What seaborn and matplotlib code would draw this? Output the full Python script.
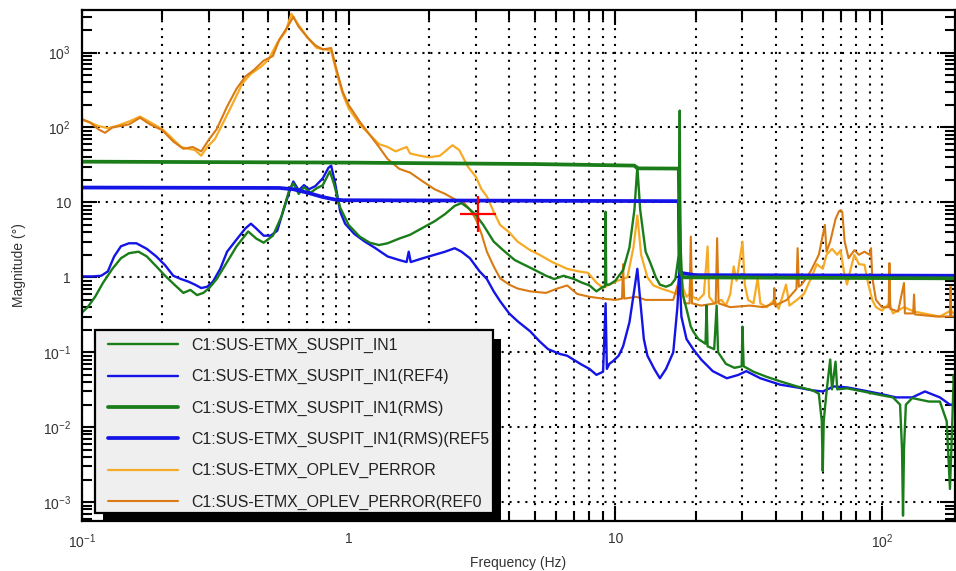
import numpy as np
import matplotlib
matplotlib.use("Agg")
import matplotlib.pyplot as plt
import seaborn as sns
from matplotlib.ticker import FixedLocator, FuncFormatter, LogLocator, NullFormatter
from matplotlib.patches import Rectangle
from matplotlib.transforms import IdentityTransform

# ---------------- data ----------------
labels = [
    "C1:SUS-ETMX_SUSPIT_IN1",
    "C1:SUS-ETMX_SUSPIT_IN1(REF4)",
    "C1:SUS-ETMX_SUSPIT_IN1(RMS)",
    "C1:SUS-ETMX_SUSPIT_IN1(RMS)(REF5",
    "C1:SUS-ETMX_OPLEV_PERROR",
    "C1:SUS-ETMX_OPLEV_PERROR(REF0",
]

green_f = [0.100, 0.105, 0.112, 0.120, 0.130, 0.140, 0.150, 0.163, 0.175, 0.190, 0.205, 0.222,
           0.240, 0.255, 0.270, 0.285, 0.300, 0.320, 0.350, 0.380, 0.420, 0.450, 0.480, 0.520,
           0.560, 0.600, 0.620, 0.650, 0.680, 0.720, 0.760, 0.800, 0.850, 0.880, 0.930, 1.00,
           1.10, 1.20, 1.30, 1.40, 1.55, 1.70, 1.90, 2.10, 2.30, 2.50, 2.65, 2.80, 3.00, 3.20,
           3.50, 3.80, 4.20, 4.60, 5.00, 5.50, 5.90, 6.40, 7.00, 7.50, 8.00, 8.50, 9.00, 9.15,
           9.20, 9.25, 9.50, 10.0, 10.7, 11.3, 11.8, 12.1, 12.4, 13.0, 13.5, 14.2, 14.7, 15.5,
           16.2, 16.8, 17.3, 17.45, 17.55, 17.9, 18.6, 19.2, 19.6, 20.5, 21.8, 22.0, 22.2, 23.5,
           24.0, 24.3, 26.0, 28.0, 29.8, 30.0, 30.3, 33.0, 37.0, 41.5, 48.0, 55.0, 58.0, 59.5,
           60.0, 60.5, 62.0, 64.0, 65.0, 67.0, 68.0, 74.0, 85.0, 98.0, 110.0, 117.0, 119.0, 120.0,
           121.0, 123.0, 130.0, 150.0, 165.0, 175.0, 180.0, 183.0, 186.0, 188.0]
green_m = [0.34, 0.40, 0.55, 0.85, 1.30, 1.80, 2.10, 2.20, 1.90, 1.40, 1.05, 0.80,
           0.62, 0.68, 0.58, 0.62, 0.72, 0.95, 1.60, 2.60, 4.10, 3.30, 2.90, 3.60,
           6.50, 15.0, 18.0, 13.0, 16.0, 13.5, 15.5, 17.0, 26.0, 18.0, 8.50, 5.00,
           3.50, 2.90, 2.70, 2.85, 3.30, 3.70, 4.60, 5.60, 7.00, 9.00, 9.80, 8.50, 6.80, 5.00,
           3.00, 2.30, 1.70, 1.45, 1.25, 1.05, 0.95, 1.05, 0.95, 0.85, 0.78, 0.65, 0.75, 0.75,
           7.50, 0.80, 0.80, 0.90, 1.25, 2.50, 8.00, 30.0, 8.00, 2.20, 1.60, 1.00, 0.80, 0.75,
           0.80, 0.95, 2.00, 168.0, 3.00, 0.60, 0.35, 0.22, 0.19, 0.15, 0.13, 0.42, 0.12, 0.11,
           0.42, 0.10, 0.070, 0.062, 0.065, 0.22, 0.065, 0.055, 0.047, 0.041, 0.035, 0.031, 0.028, 0.012,
           0.0026, 0.012, 0.030, 0.080, 0.032, 0.075, 0.032, 0.033, 0.030, 0.027, 0.025, 0.020, 0.005, 0.00066,
           0.005, 0.020, 0.0245, 0.022, 0.022, 0.012, 0.0015, 0.008, 0.050, 0.030]

blue_f = [0.100, 0.110, 0.118, 0.125, 0.132, 0.140, 0.150, 0.160, 0.175, 0.190, 0.205, 0.220,
          0.235, 0.250, 0.265, 0.280, 0.295, 0.310, 0.330, 0.350, 0.380, 0.410, 0.430, 0.450,
          0.480, 0.510, 0.540, 0.570, 0.600, 0.620, 0.650, 0.680, 0.710, 0.750, 0.800, 0.840,
          0.860, 0.890, 0.930, 0.970, 1.05, 1.15, 1.25, 1.40, 1.55, 1.65, 1.68, 1.71, 1.85,
          2.05, 2.30, 2.50, 2.65, 2.85, 3.10, 3.30, 3.50, 3.70, 4.00, 4.30, 4.80, 5.20, 5.60,
          6.20, 6.60, 7.40, 8.00, 8.50, 9.00, 9.20, 9.30, 9.50, 9.80, 10.3, 10.7, 11.3, 11.8,
          12.1, 12.4, 12.8, 13.2, 14.0, 14.7, 15.5, 16.5, 17.1, 17.4, 17.7, 18.5, 19.6, 21.0,
          23.2, 26.2, 29.0, 31.0, 35.0, 41.5, 48.0, 55.0, 60.0, 66.0, 74.0, 85.0, 98.0, 113.0,
          130.0, 145.0, 165.0, 180.0, 188.0]
blue_m = [1.03, 1.03, 1.05, 1.20, 1.90, 2.60, 2.85, 2.85, 2.40, 1.90, 1.45, 1.05,
          0.95, 0.88, 0.80, 0.72, 0.75, 0.88, 1.30, 2.20, 3.20, 4.50, 5.20, 4.50,
          3.60, 3.60, 4.20, 8.00, 14.0, 19.0, 14.5, 17.0, 15.0, 16.5, 21.0, 29.0,
          31.0, 18.0, 7.50, 5.20, 3.80, 3.00, 2.50, 1.90, 1.70, 1.60, 2.20, 1.60, 1.75,
          1.95, 2.20, 2.45, 2.20, 1.80, 1.20, 0.95, 0.65, 0.48, 0.33, 0.26, 0.19, 0.14, 0.11,
          0.095, 0.090, 0.070, 0.060, 0.050, 0.055, 0.45, 0.060, 0.070, 0.076, 0.090, 0.12, 0.25, 0.70,
          1.30, 0.50, 0.15, 0.090, 0.060, 0.045, 0.060, 0.10, 0.40, 1.30, 0.30, 0.15, 0.11, 0.080,
          0.056, 0.045, 0.050, 0.056, 0.045, 0.037, 0.034, 0.031, 0.030, 0.035, 0.034, 0.031, 0.028, 0.025,
          0.025, 0.030, 0.025, 0.020, 0.020]

green_rms_f = [0.100, 1.00, 5.00, 11.8, 12.1, 17.3, 17.5, 18.0, 188.0]
green_rms_m = [35.0, 34.0, 32.5, 31.0, 28.5, 28.3, 1.20, 1.00, 0.97]

blue_rms_f = [0.100, 0.55, 0.62, 0.70, 0.80, 0.88, 0.95, 17.3, 17.5, 20.0, 188.0]
blue_rms_m = [15.8, 15.6, 15.0, 13.5, 11.8, 11.0, 10.7, 10.4, 1.15, 1.07, 1.05]

oplev_f = [0.100, 0.105, 0.115, 0.125, 0.135, 0.150, 0.165, 0.180, 0.200, 0.215, 0.235, 0.250,
           0.265, 0.280, 0.295, 0.315, 0.340, 0.370, 0.400, 0.430, 0.470, 0.500, 0.540, 0.580,
           0.610, 0.640, 0.670, 0.710, 0.760, 0.820, 0.860, 0.900, 0.950, 1.00, 1.10, 1.20,
           1.30, 1.40, 1.50, 1.65, 1.70, 1.85, 2.00, 2.20, 2.45, 2.60, 2.80, 3.00, 3.15, 3.30,
           3.50, 3.70, 4.00, 4.30, 4.80, 5.20, 5.80, 6.60, 7.30, 7.90, 8.50, 9.00, 9.50, 10.2,
           11.1, 11.7, 12.1, 12.5, 13.2, 13.9, 15.0, 16.0, 17.0, 17.5, 18.0, 18.5, 19.0, 19.2,
           19.5, 20.5, 21.5, 22.2, 22.5, 23.5, 25.0, 26.0, 27.0, 27.8, 28.5, 30.0, 30.6, 31.5,
           33.0, 34.2, 35.0, 37.0, 39.5, 41.0, 43.7, 45.0, 48.0, 51.0, 54.4, 57.0, 60.0, 62.0,
           65.0, 68.0, 70.0, 72.0, 74.0, 76.0, 78.8, 82.0, 86.0, 89.0, 92.0, 95.0, 100.0, 106.7,
           110.0, 121.0, 132.0, 150.0, 165.0, 181.0, 188.0]
oplev_m = [125.0, 120.0, 105.0, 98.0, 105.0, 120.0, 140.0, 118.0, 95.0, 75.0, 55.0, 52.0,
           50.0, 42.0, 55.0, 70.0, 120.0, 220.0, 390.0, 520.0, 650.0, 800.0, 1350.0, 1900.0,
           3300.0, 2500.0, 2000.0, 1500.0, 1150.0, 1100.0, 1050.0, 550.0, 280.0, 180.0, 110.0, 80.0,
           60.0, 55.0, 48.0, 55.0, 45.0, 42.0, 40.0, 42.0, 58.0, 50.0, 30.0, 22.0, 15.0, 12.0,
           7.50, 5.00, 4.00, 3.00, 2.30, 2.00, 1.60, 1.30, 1.20, 1.15, 0.85, 0.72, 0.80, 0.90,
           1.00, 2.50, 6.70, 2.00, 1.00, 0.78, 0.70, 0.65, 0.60, 1.20, 0.70, 0.55, 0.60, 1.50,
           0.55, 0.50, 0.60, 2.58, 0.55, 0.45, 0.50, 0.42, 0.60, 1.40, 0.90, 3.00, 0.80, 0.50,
           0.45, 0.98, 0.45, 0.40, 0.50, 0.38, 0.80, 0.42, 0.50, 0.60, 1.00, 1.50, 1.30, 2.00,
           2.40, 2.00, 2.30, 1.20, 0.80, 1.20, 2.00, 1.50, 1.47, 0.80, 0.50, 0.40, 0.36, 0.45,
           0.33, 0.40, 0.35, 0.32, 0.30, 0.36, 0.32]

oplev_ref_f = [0.100, 0.108, 0.115, 0.122, 0.130, 0.140, 0.150, 0.165, 0.180, 0.200, 0.220, 0.240,
               0.260, 0.280, 0.300, 0.320, 0.350, 0.380, 0.410, 0.440, 0.480, 0.520, 0.550, 0.590,
               0.620, 0.650, 0.700, 0.750, 0.800, 0.860, 0.900, 0.950, 1.00, 1.10, 1.20, 1.30,
               1.40, 1.55, 1.70, 1.90, 2.10, 2.30, 2.50, 2.70, 2.85, 3.00, 3.15, 3.30, 3.50, 3.70,
               4.00, 4.30, 4.80, 5.50, 6.00, 6.60, 7.20, 8.00, 9.00, 10.0, 10.6, 10.7, 10.8, 12.0,
               13.0, 15.0, 16.5, 17.5, 18.2, 19.0, 19.2, 19.4, 21.0, 23.8, 24.1, 24.4, 27.0, 32.0,
               36.0, 39.3, 39.5, 39.7, 44.0, 47.8, 48.3, 48.8, 50.0, 54.0, 58.0, 61.1, 62.0, 64.0,
               67.0, 69.0, 70.1, 71.0, 72.5, 75.0, 78.8, 82.0, 86.0, 90.0, 91.0, 92.0, 95.0, 100.0,
               106.0, 106.7, 107.5, 115.0, 121.0, 122.0, 131.0, 132.0, 133.0, 160.0, 180.0, 181.0,
               182.0, 188.0]
oplev_ref_m = [130.0, 115.0, 95.0, 85.0, 100.0, 105.0, 110.0, 135.0, 110.0, 92.0, 65.0, 52.0,
               55.0, 48.0, 70.0, 95.0, 190.0, 330.0, 480.0, 580.0, 780.0, 900.0, 1500.0, 2200.0,
               3000.0, 2200.0, 1600.0, 1250.0, 1100.0, 1150.0, 600.0, 300.0, 200.0, 120.0, 80.0, 55.0,
               38.0, 28.0, 25.0, 19.0, 15.0, 13.0, 11.0, 10.0, 8.00, 6.00, 3.80, 2.20, 1.40, 0.97,
               0.80, 0.71, 0.65, 0.62, 0.70, 0.78, 0.60, 0.55, 0.52, 0.50, 0.52, 1.50, 0.52, 0.55,
               0.50, 0.50, 0.50, 1.00, 0.45, 0.45, 3.50, 0.45, 0.42, 0.45, 3.33, 0.45, 0.40, 0.42,
               0.40, 0.45, 0.72, 0.42, 0.50, 0.70, 2.45, 0.75, 0.80, 1.20, 2.00, 5.00, 2.20, 3.00,
               6.00, 7.60, 7.90, 7.50, 3.00, 1.80, 2.30, 2.00, 2.20, 2.00, 2.45, 1.00, 0.50, 0.40,
               0.40, 1.55, 0.38, 0.35, 0.84, 0.33, 0.33, 0.59, 0.32, 0.30, 0.30, 0.75,
               0.30, 0.30]

cursor_f = [3.05]
cursor_m = [7.0]

x_decades = [0.1, 1, 10, 100]
y_decades = [1e-3, 1e-2, 1e-1, 1, 10, 100, 1000]

# ---------------- style ----------------
sns.set_theme(style="white")
plt.rcParams['font.family'] = ['Liberation Sans', 'DejaVu Sans']
plt.rcParams['mathtext.fontset'] = 'custom'
plt.rcParams['mathtext.rm'] = 'Liberation Sans'
plt.rcParams['mathtext.it'] = 'Liberation Sans:italic'
plt.rcParams['mathtext.bf'] = 'Liberation Sans:bold'

c_green = '#1a7d1a'
c_blue = '#1414e6'
c_yellow = '#f7aa25'
c_orange = '#d97a12'

fig = plt.figure(figsize=(9.56, 5.71), dpi=100)
ax = fig.add_axes([82 / 956, 1 - 521 / 571, 873 / 956, 511 / 571])
ax.set_xscale('log')
ax.set_yscale('log')

series = [
    (oplev_f, oplev_m, c_yellow, 1.6, labels[4], 2.0),
    (oplev_ref_f, oplev_ref_m, c_orange, 1.5, labels[5], 2.1),
    (blue_f, blue_m, c_blue, 1.7, labels[1], 2.2),
    (green_f, green_m, c_green, 1.7, labels[0], 2.3),
    (blue_rms_f, blue_rms_m, c_blue, 2.7, labels[3], 2.4),
    (green_rms_f, green_rms_m, c_green, 2.7, labels[2], 2.5),
]
handles = {}
for f, m, c, lw, lab, z in series:
    n_before = len(ax.lines)
    sns.lineplot(x=f, y=m, ax=ax, color=c, linewidth=lw, estimator=None, sort=False, legend=False)
    line = ax.lines[n_before]
    line.set_zorder(z)
    line.set_label(lab)
    handles[lab] = line

sns.scatterplot(x=cursor_f, y=cursor_m, ax=ax, marker='+', s=26 ** 2, color='red',
                linewidth=1.6, zorder=3, legend=False)

ax.set_xlim(0.1, 188)
ax.set_ylim(5.6e-4, 3700)

def fmt(v, pos):
    e = int(round(np.log10(v)))
    if e == 0:
        return '1'
    if e == 1:
        return '10'
    return r'$10^{%d}$' % e

ax.xaxis.set_major_locator(FixedLocator(x_decades))
ax.yaxis.set_major_locator(FixedLocator(y_decades))
ax.xaxis.set_minor_locator(LogLocator(base=10, subs=np.arange(2, 10), numticks=30))
ax.yaxis.set_minor_locator(LogLocator(base=10, subs=np.arange(2, 10), numticks=30))
ax.xaxis.set_major_formatter(FuncFormatter(fmt))
ax.yaxis.set_major_formatter(FuncFormatter(fmt))
ax.xaxis.set_minor_formatter(NullFormatter())
ax.yaxis.set_minor_formatter(NullFormatter())

ax.tick_params(which='both', direction='in', top=True, right=True, bottom=True, left=True,
               color='black', width=1.5, labelsize=10, labelcolor='#333333', pad=8)
ax.tick_params(which='major', length=11)
ax.tick_params(which='minor', length=7)

dot = (0, (1, 2.8))
ax.grid(True, which='major', axis='both', color='black', linestyle=dot, linewidth=1.5)
ax.grid(True, which='minor', axis='x', color='black', linestyle=dot, linewidth=1.5)
ax.grid(False, which='minor', axis='y')
ax.set_axisbelow(True)

for sp in ax.spines.values():
    sp.set_visible(True)
    sp.set_color('black')
    sp.set_linewidth(1.6)

ax.set_xlabel('Frequency (Hz)', fontsize=10, color='#333333', labelpad=4)
ax.set_ylabel('Magnitude (°)', fontsize=10, color='#333333', labelpad=12)

# legend: contents placed at (108, 338) px; box/shadow drawn around them
order = [labels[0], labels[1], labels[2], labels[3], labels[4], labels[5]]
leg = ax.legend([handles[k] for k in order], order, loc='upper left',
                bbox_to_anchor=((108 - 82) / 873, (521 - 338) / 511), borderaxespad=0,
                fontsize=11.4, frameon=False, borderpad=0,
                handlelength=4.4, handletextpad=0.85, labelspacing=1.02)
leg.set_zorder(6)
for t in leg.get_texts():
    t.set_color('#222222')

fig.canvas.draw()
bb = leg.get_window_extent()
pad_l, pad_r, pad_t, pad_b = 13, 4, 8, 3
bx0, by0 = bb.x0 - pad_l, bb.y0 - pad_b
bw, bh = bb.width + pad_l + pad_r, bb.height + pad_t + pad_b
shadow = Rectangle((bx0 + 8, by0 - 9), bw, bh, transform=IdentityTransform(),
                   facecolor='black', edgecolor='none', zorder=5.8, clip_on=False)
box = Rectangle((bx0, by0), bw, bh, transform=IdentityTransform(),
                facecolor='#efefef', edgecolor='black', linewidth=1.6, zorder=5.9, clip_on=False)
ax.add_patch(shadow)
ax.add_patch(box)

fig.savefig('out.png', dpi=100)
